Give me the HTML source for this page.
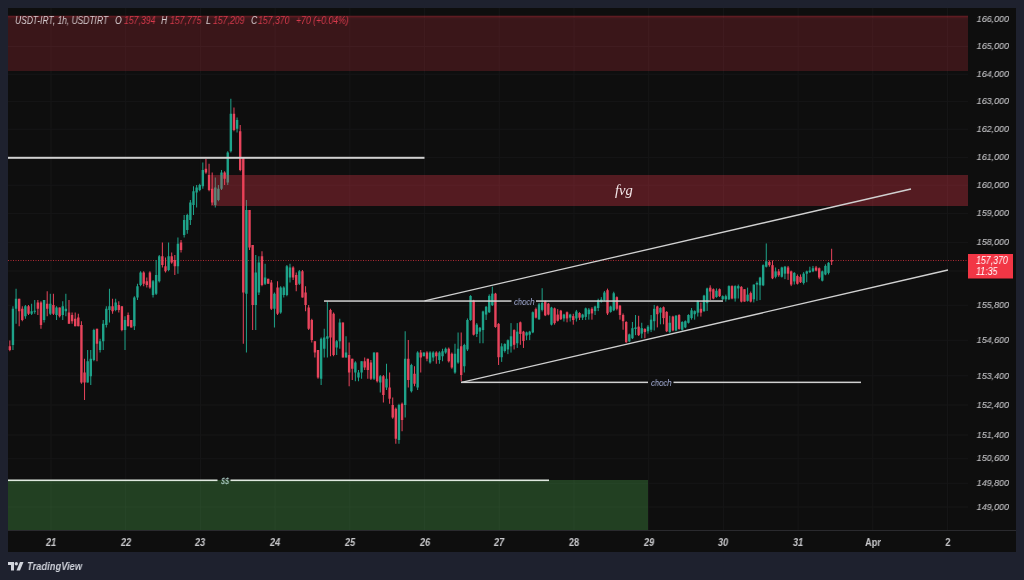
<!DOCTYPE html>
<html><head><meta charset="utf-8"><style>
html,body{margin:0;padding:0;}
body{width:1024px;height:580px;overflow:hidden;background:#1e212e;position:relative;font-family:"Liberation Sans", sans-serif;}
#chart{position:absolute;left:8px;top:8px;width:1008px;height:544px;background:#0e0e0e;}
svg{position:absolute;left:0;top:0;}
.pl{position:absolute;left:958.5px;width:50px;text-align:right;font-size:9.6px;line-height:11px;color:#c3c3c6;font-style:italic;-webkit-text-stroke:0.1px #c3c3c6;transform:scaleX(0.93);transform-origin:right center;}
.dl{position:absolute;top:535.5px;width:40px;text-align:center;font-size:10.5px;line-height:12px;color:#c8c8cb;font-style:italic;font-weight:bold;transform:scaleX(0.88);}
div{will-change:transform;}
.lg{position:absolute;top:15px;font-size:10px;line-height:11px;font-style:italic;white-space:nowrap;transform:scaleX(0.87);transform-origin:left center;}
</style></head><body>
<div id="chart"></div>
<svg width="1024" height="580" viewBox="0 0 1024 580">
<rect x="50.5" y="8" width="1" height="522" fill="#161617"/>
<rect x="125.21" y="8" width="1" height="522" fill="#161617"/>
<rect x="199.92" y="8" width="1" height="522" fill="#161617"/>
<rect x="274.63" y="8" width="1" height="522" fill="#161617"/>
<rect x="349.34" y="8" width="1" height="522" fill="#161617"/>
<rect x="424.05" y="8" width="1" height="522" fill="#161617"/>
<rect x="498.76" y="8" width="1" height="522" fill="#161617"/>
<rect x="573.47" y="8" width="1" height="522" fill="#161617"/>
<rect x="648.18" y="8" width="1" height="522" fill="#161617"/>
<rect x="722.89" y="8" width="1" height="522" fill="#161617"/>
<rect x="797.6" y="8" width="1" height="522" fill="#161617"/>
<rect x="872.31" y="8" width="1" height="522" fill="#161617"/>
<rect x="947.02" y="8" width="1" height="522" fill="#161617"/>
<rect x="8" y="18.4" width="960" height="1" fill="#161617"/>
<rect x="8" y="46" width="960" height="1" fill="#161617"/>
<rect x="8" y="73.7" width="960" height="1" fill="#161617"/>
<rect x="8" y="100.9" width="960" height="1" fill="#161617"/>
<rect x="8" y="128.7" width="960" height="1" fill="#161617"/>
<rect x="8" y="156.9" width="960" height="1" fill="#161617"/>
<rect x="8" y="184.7" width="960" height="1" fill="#161617"/>
<rect x="8" y="213.1" width="960" height="1" fill="#161617"/>
<rect x="8" y="241.9" width="960" height="1" fill="#161617"/>
<rect x="8" y="304.8" width="960" height="1" fill="#161617"/>
<rect x="8" y="339.8" width="960" height="1" fill="#161617"/>
<rect x="8" y="375.3" width="960" height="1" fill="#161617"/>
<rect x="8" y="404.5" width="960" height="1" fill="#161617"/>
<rect x="8" y="434.5" width="960" height="1" fill="#161617"/>
<rect x="8" y="458.2" width="960" height="1" fill="#161617"/>
<rect x="8" y="482.8" width="960" height="1" fill="#161617"/>
<rect x="8" y="506.5" width="960" height="1" fill="#161617"/>
<rect x="8" y="270.5" width="960" height="1" fill="#161617"/>
<line x1="8" y1="260.5" x2="968" y2="260.5" stroke="#f23645" stroke-width="1" stroke-dasharray="1 1.5" opacity="0.7"/>
<rect x="9.33" y="340.5" width="1" height="10.75" fill="#e8445c"/>
<rect x="8.63" y="346.25" width="2.4" height="3.75" fill="#e8445c"/>
<rect x="12.45" y="306.25" width="1" height="43.75" fill="#1ea38a"/>
<rect x="11.75" y="308.75" width="2.4" height="36.25" fill="#1ea38a"/>
<rect x="15.56" y="288.75" width="1" height="35" fill="#1ea38a"/>
<rect x="14.86" y="298.75" width="2.4" height="10" fill="#1ea38a"/>
<rect x="18.67" y="298.75" width="1" height="27.5" fill="#e8445c"/>
<rect x="17.97" y="298.75" width="2.4" height="12.5" fill="#e8445c"/>
<rect x="21.78" y="306.25" width="1" height="15" fill="#e8445c"/>
<rect x="21.08" y="308.75" width="2.4" height="11.25" fill="#e8445c"/>
<rect x="24.9" y="305" width="1" height="13.75" fill="#1ea38a"/>
<rect x="24.2" y="306.25" width="2.4" height="10" fill="#1ea38a"/>
<rect x="28.01" y="305" width="1" height="10" fill="#e8445c"/>
<rect x="27.31" y="306.25" width="2.4" height="7.5" fill="#e8445c"/>
<rect x="31.12" y="303.75" width="1" height="11.25" fill="#1ea38a"/>
<rect x="30.42" y="311.25" width="2.4" height="2.5" fill="#1ea38a"/>
<rect x="34.24" y="300" width="1" height="13.75" fill="#1ea38a"/>
<rect x="33.54" y="310.75" width="2.4" height="1" fill="#1ea38a"/>
<rect x="37.35" y="300" width="1" height="15" fill="#e8445c"/>
<rect x="36.65" y="302.5" width="2.4" height="6.25" fill="#e8445c"/>
<rect x="40.46" y="301.25" width="1" height="27.5" fill="#e8445c"/>
<rect x="39.76" y="302.5" width="2.4" height="22.5" fill="#e8445c"/>
<rect x="43.57" y="300" width="1" height="22.5" fill="#1ea38a"/>
<rect x="42.87" y="300" width="2.4" height="20" fill="#1ea38a"/>
<rect x="46.69" y="291.25" width="1" height="25" fill="#e8445c"/>
<rect x="45.99" y="303.75" width="2.4" height="5" fill="#e8445c"/>
<rect x="49.8" y="293.75" width="1" height="21.25" fill="#1ea38a"/>
<rect x="49.1" y="303.75" width="2.4" height="10" fill="#1ea38a"/>
<rect x="52.91" y="293.75" width="1" height="21.25" fill="#e8445c"/>
<rect x="52.21" y="305" width="2.4" height="8.75" fill="#e8445c"/>
<rect x="56.03" y="306.25" width="1" height="13.75" fill="#1ea38a"/>
<rect x="55.33" y="307.5" width="2.4" height="7.5" fill="#1ea38a"/>
<rect x="59.14" y="307.5" width="1" height="10" fill="#e8445c"/>
<rect x="58.44" y="307.5" width="2.4" height="8.75" fill="#e8445c"/>
<rect x="62.25" y="301.25" width="1" height="18.75" fill="#1ea38a"/>
<rect x="61.55" y="306.25" width="2.4" height="8.75" fill="#1ea38a"/>
<rect x="65.36" y="293.75" width="1" height="22.5" fill="#1ea38a"/>
<rect x="64.66" y="308.75" width="2.4" height="2.5" fill="#1ea38a"/>
<rect x="68.48" y="300" width="1" height="23.75" fill="#e8445c"/>
<rect x="67.78" y="312.5" width="2.4" height="11.25" fill="#e8445c"/>
<rect x="71.59" y="312.5" width="1" height="11.25" fill="#e8445c"/>
<rect x="70.89" y="315" width="2.4" height="6.25" fill="#e8445c"/>
<rect x="74.7" y="312.5" width="1" height="13.75" fill="#e8445c"/>
<rect x="74" y="318.75" width="2.4" height="7.5" fill="#e8445c"/>
<rect x="77.82" y="313.75" width="1" height="12.5" fill="#e8445c"/>
<rect x="77.12" y="317.5" width="2.4" height="8.75" fill="#e8445c"/>
<rect x="80.93" y="321.25" width="1" height="62.5" fill="#e8445c"/>
<rect x="80.23" y="325" width="2.4" height="57.5" fill="#e8445c"/>
<rect x="84.04" y="358.75" width="1" height="41.25" fill="#e8445c"/>
<rect x="83.34" y="372.5" width="2.4" height="10" fill="#e8445c"/>
<rect x="87.16" y="350" width="1" height="32.5" fill="#1ea38a"/>
<rect x="86.45" y="361.25" width="2.4" height="21.25" fill="#1ea38a"/>
<rect x="90.27" y="350" width="1" height="35" fill="#1ea38a"/>
<rect x="89.57" y="358.75" width="2.4" height="17.5" fill="#1ea38a"/>
<rect x="93.38" y="328.75" width="1" height="32.5" fill="#1ea38a"/>
<rect x="92.68" y="330" width="2.4" height="30" fill="#1ea38a"/>
<rect x="96.49" y="328.75" width="1" height="32.5" fill="#e8445c"/>
<rect x="95.79" y="328.75" width="2.4" height="15" fill="#e8445c"/>
<rect x="99.61" y="338.75" width="1" height="13.75" fill="#1ea38a"/>
<rect x="98.91" y="341.25" width="2.4" height="8.75" fill="#1ea38a"/>
<rect x="102.72" y="320" width="1" height="30" fill="#1ea38a"/>
<rect x="102.02" y="323.75" width="2.4" height="17.5" fill="#1ea38a"/>
<rect x="105.83" y="306.25" width="1" height="21.25" fill="#1ea38a"/>
<rect x="105.13" y="308.75" width="2.4" height="16.25" fill="#1ea38a"/>
<rect x="108.95" y="288.75" width="1" height="33.75" fill="#1ea38a"/>
<rect x="108.25" y="306.25" width="2.4" height="3.75" fill="#1ea38a"/>
<rect x="112.06" y="298.75" width="1" height="15" fill="#e8445c"/>
<rect x="111.36" y="306.25" width="2.4" height="5" fill="#e8445c"/>
<rect x="115.17" y="298.75" width="1" height="12.5" fill="#1ea38a"/>
<rect x="114.47" y="302.5" width="2.4" height="7.5" fill="#1ea38a"/>
<rect x="118.28" y="301.25" width="1" height="11.25" fill="#e8445c"/>
<rect x="117.58" y="305" width="2.4" height="5" fill="#e8445c"/>
<rect x="121.4" y="306.25" width="1" height="25" fill="#e8445c"/>
<rect x="120.7" y="306.25" width="2.4" height="23.75" fill="#e8445c"/>
<rect x="124.51" y="316.25" width="1" height="33.75" fill="#1ea38a"/>
<rect x="123.81" y="320" width="2.4" height="10" fill="#1ea38a"/>
<rect x="127.62" y="312.5" width="1" height="13.75" fill="#e8445c"/>
<rect x="126.92" y="315" width="2.4" height="11.25" fill="#e8445c"/>
<rect x="130.74" y="320" width="1" height="7.5" fill="#e8445c"/>
<rect x="130.04" y="320" width="2.4" height="7.5" fill="#e8445c"/>
<rect x="133.85" y="296.25" width="1" height="33.75" fill="#1ea38a"/>
<rect x="133.15" y="297.5" width="2.4" height="28.75" fill="#1ea38a"/>
<rect x="136.96" y="283.75" width="1" height="16.25" fill="#1ea38a"/>
<rect x="136.26" y="286.25" width="2.4" height="11.25" fill="#1ea38a"/>
<rect x="140.07" y="271.25" width="1" height="15" fill="#1ea38a"/>
<rect x="139.37" y="272.5" width="2.4" height="12.5" fill="#1ea38a"/>
<rect x="143.19" y="271.25" width="1" height="15" fill="#e8445c"/>
<rect x="142.49" y="272.5" width="2.4" height="11.25" fill="#e8445c"/>
<rect x="146.3" y="277.5" width="1" height="10" fill="#e8445c"/>
<rect x="145.6" y="281.25" width="2.4" height="3.75" fill="#e8445c"/>
<rect x="149.41" y="271.25" width="1" height="17.5" fill="#e8445c"/>
<rect x="148.71" y="272.5" width="2.4" height="15" fill="#e8445c"/>
<rect x="152.53" y="280" width="1" height="17.5" fill="#1ea38a"/>
<rect x="151.83" y="281.25" width="2.4" height="13.75" fill="#1ea38a"/>
<rect x="155.64" y="260" width="1" height="35" fill="#1ea38a"/>
<rect x="154.94" y="275" width="2.4" height="18.75" fill="#1ea38a"/>
<rect x="158.75" y="255" width="1" height="27.5" fill="#1ea38a"/>
<rect x="158.05" y="256.25" width="2.4" height="25" fill="#1ea38a"/>
<rect x="161.87" y="242.5" width="1" height="25" fill="#e8445c"/>
<rect x="161.17" y="256.25" width="2.4" height="8.75" fill="#e8445c"/>
<rect x="164.98" y="257.5" width="1" height="15" fill="#e8445c"/>
<rect x="164.28" y="266.25" width="2.4" height="5" fill="#e8445c"/>
<rect x="168.09" y="242.5" width="1" height="28.75" fill="#1ea38a"/>
<rect x="167.39" y="256.25" width="2.4" height="13.75" fill="#1ea38a"/>
<rect x="171.2" y="252.5" width="1" height="11.25" fill="#e8445c"/>
<rect x="170.5" y="256.25" width="2.4" height="6.25" fill="#e8445c"/>
<rect x="174.32" y="255" width="1" height="20" fill="#e8445c"/>
<rect x="173.62" y="260" width="2.4" height="6.25" fill="#e8445c"/>
<rect x="177.43" y="237.5" width="1" height="36.25" fill="#1ea38a"/>
<rect x="176.73" y="243.75" width="2.4" height="22.5" fill="#1ea38a"/>
<rect x="180.54" y="240" width="1" height="12.5" fill="#e8445c"/>
<rect x="179.84" y="242.5" width="2.4" height="7.5" fill="#e8445c"/>
<rect x="183.66" y="215" width="1" height="22.5" fill="#1ea38a"/>
<rect x="182.96" y="220" width="2.4" height="15" fill="#1ea38a"/>
<rect x="186.77" y="213.75" width="1" height="20" fill="#1ea38a"/>
<rect x="186.07" y="215" width="2.4" height="15" fill="#1ea38a"/>
<rect x="189.88" y="200" width="1" height="25" fill="#1ea38a"/>
<rect x="189.18" y="202.5" width="2.4" height="17.5" fill="#1ea38a"/>
<rect x="192.99" y="186.25" width="1" height="28.75" fill="#1ea38a"/>
<rect x="192.29" y="191.25" width="2.4" height="13.75" fill="#1ea38a"/>
<rect x="196.11" y="185" width="1" height="22.5" fill="#1ea38a"/>
<rect x="195.41" y="187.5" width="2.4" height="5" fill="#1ea38a"/>
<rect x="199.22" y="183.75" width="1" height="7.5" fill="#1ea38a"/>
<rect x="198.52" y="185" width="2.4" height="5" fill="#1ea38a"/>
<rect x="202.33" y="162.5" width="1" height="26.25" fill="#1ea38a"/>
<rect x="201.63" y="170" width="2.4" height="16.25" fill="#1ea38a"/>
<rect x="205.45" y="158.75" width="1" height="15" fill="#e8445c"/>
<rect x="204.75" y="168.75" width="2.4" height="3.75" fill="#e8445c"/>
<rect x="208.56" y="163.75" width="1" height="27.5" fill="#e8445c"/>
<rect x="207.86" y="175" width="2.4" height="15" fill="#e8445c"/>
<rect x="211.67" y="172.5" width="1" height="32.5" fill="#e8445c"/>
<rect x="210.97" y="188.75" width="2.4" height="13.75" fill="#e8445c"/>
<rect x="214.78" y="177.5" width="1" height="30" fill="#1ea38a"/>
<rect x="214.08" y="187.5" width="2.4" height="17.5" fill="#1ea38a"/>
<rect x="217.9" y="185" width="1" height="16.25" fill="#1ea38a"/>
<rect x="217.2" y="188.75" width="2.4" height="11.25" fill="#1ea38a"/>
<rect x="221.01" y="170" width="1" height="20" fill="#1ea38a"/>
<rect x="220.31" y="172.5" width="2.4" height="16.25" fill="#1ea38a"/>
<rect x="224.12" y="171.25" width="1" height="13.75" fill="#e8445c"/>
<rect x="223.42" y="172.5" width="2.4" height="6.25" fill="#e8445c"/>
<rect x="227.24" y="151.25" width="1" height="33.75" fill="#1ea38a"/>
<rect x="226.54" y="152.5" width="2.4" height="30" fill="#1ea38a"/>
<rect x="230.35" y="98.75" width="1" height="53.75" fill="#1ea38a"/>
<rect x="229.65" y="113.75" width="2.4" height="37.5" fill="#1ea38a"/>
<rect x="233.46" y="107.5" width="1" height="23.75" fill="#e8445c"/>
<rect x="232.76" y="113.75" width="2.4" height="16.25" fill="#e8445c"/>
<rect x="236.57" y="117.5" width="1" height="15" fill="#1ea38a"/>
<rect x="235.88" y="120" width="2.4" height="8.75" fill="#1ea38a"/>
<rect x="239.69" y="125" width="1" height="46.25" fill="#e8445c"/>
<rect x="238.99" y="131.25" width="2.4" height="38.75" fill="#e8445c"/>
<rect x="242.8" y="157.5" width="1" height="186.25" fill="#e8445c"/>
<rect x="242.1" y="157.5" width="2.4" height="135" fill="#e8445c"/>
<rect x="245.91" y="200" width="1" height="152.5" fill="#1ea38a"/>
<rect x="245.21" y="210" width="2.4" height="83.75" fill="#1ea38a"/>
<rect x="249.03" y="210" width="1" height="40" fill="#e8445c"/>
<rect x="248.33" y="210" width="2.4" height="37.5" fill="#e8445c"/>
<rect x="252.14" y="245" width="1" height="85" fill="#e8445c"/>
<rect x="251.44" y="245" width="2.4" height="60" fill="#e8445c"/>
<rect x="255.25" y="255" width="1" height="75" fill="#1ea38a"/>
<rect x="254.55" y="272.5" width="2.4" height="32.5" fill="#1ea38a"/>
<rect x="258.37" y="256.25" width="1" height="38.75" fill="#1ea38a"/>
<rect x="257.67" y="262.5" width="2.4" height="30" fill="#1ea38a"/>
<rect x="261.48" y="251.25" width="1" height="35" fill="#e8445c"/>
<rect x="260.78" y="256.25" width="2.4" height="28.75" fill="#e8445c"/>
<rect x="264.59" y="263.75" width="1" height="21.25" fill="#1ea38a"/>
<rect x="263.89" y="277.5" width="2.4" height="6.25" fill="#1ea38a"/>
<rect x="267.7" y="278.75" width="1" height="5" fill="#e8445c"/>
<rect x="267" y="278.75" width="2.4" height="5" fill="#e8445c"/>
<rect x="270.82" y="280" width="1" height="30" fill="#e8445c"/>
<rect x="270.12" y="282.5" width="2.4" height="26.25" fill="#e8445c"/>
<rect x="273.93" y="292.5" width="1" height="35" fill="#1ea38a"/>
<rect x="273.23" y="293.75" width="2.4" height="15" fill="#1ea38a"/>
<rect x="277.04" y="281.25" width="1" height="33.75" fill="#e8445c"/>
<rect x="276.34" y="287.5" width="2.4" height="26.25" fill="#e8445c"/>
<rect x="280.16" y="286.25" width="1" height="27.5" fill="#1ea38a"/>
<rect x="279.46" y="287.5" width="2.4" height="25" fill="#1ea38a"/>
<rect x="283.27" y="286.25" width="1" height="11.25" fill="#1ea38a"/>
<rect x="282.57" y="287.5" width="2.4" height="7.5" fill="#1ea38a"/>
<rect x="286.38" y="265" width="1" height="31.25" fill="#1ea38a"/>
<rect x="285.68" y="266.25" width="2.4" height="28.75" fill="#1ea38a"/>
<rect x="289.49" y="263.75" width="1" height="18.75" fill="#1ea38a"/>
<rect x="288.79" y="267.5" width="2.4" height="10" fill="#1ea38a"/>
<rect x="292.61" y="266.25" width="1" height="13.75" fill="#e8445c"/>
<rect x="291.91" y="267.5" width="2.4" height="10" fill="#e8445c"/>
<rect x="295.72" y="272.5" width="1" height="18.75" fill="#e8445c"/>
<rect x="295.02" y="275" width="2.4" height="10" fill="#e8445c"/>
<rect x="298.83" y="270" width="1" height="15" fill="#1ea38a"/>
<rect x="298.13" y="271.25" width="2.4" height="12.5" fill="#1ea38a"/>
<rect x="301.95" y="270" width="1" height="27.5" fill="#e8445c"/>
<rect x="301.25" y="271.25" width="2.4" height="26.25" fill="#e8445c"/>
<rect x="305.06" y="286.25" width="1" height="25" fill="#e8445c"/>
<rect x="304.36" y="292.5" width="2.4" height="12.5" fill="#e8445c"/>
<rect x="308.17" y="305" width="1" height="25" fill="#e8445c"/>
<rect x="307.47" y="307.5" width="2.4" height="21.25" fill="#e8445c"/>
<rect x="311.29" y="318.75" width="1" height="23.75" fill="#e8445c"/>
<rect x="310.59" y="320" width="2.4" height="20" fill="#e8445c"/>
<rect x="314.4" y="341.25" width="1" height="16.25" fill="#e8445c"/>
<rect x="313.7" y="341.25" width="2.4" height="11.25" fill="#e8445c"/>
<rect x="317.51" y="350" width="1" height="28.75" fill="#e8445c"/>
<rect x="316.81" y="350" width="2.4" height="27.5" fill="#e8445c"/>
<rect x="320.62" y="337.5" width="1" height="47.5" fill="#1ea38a"/>
<rect x="319.92" y="338.75" width="2.4" height="40" fill="#1ea38a"/>
<rect x="323.74" y="328.75" width="1" height="28.75" fill="#1ea38a"/>
<rect x="323.04" y="337.5" width="2.4" height="11.25" fill="#1ea38a"/>
<rect x="326.85" y="301.25" width="1" height="56.25" fill="#1ea38a"/>
<rect x="326.15" y="336.25" width="2.4" height="2.5" fill="#1ea38a"/>
<rect x="329.96" y="308.75" width="1" height="47.5" fill="#e8445c"/>
<rect x="329.26" y="310" width="2.4" height="27.5" fill="#e8445c"/>
<rect x="333.08" y="312.5" width="1" height="43.75" fill="#e8445c"/>
<rect x="332.38" y="313.75" width="2.4" height="41.25" fill="#e8445c"/>
<rect x="336.19" y="340" width="1" height="15" fill="#1ea38a"/>
<rect x="335.49" y="341.25" width="2.4" height="6.25" fill="#1ea38a"/>
<rect x="339.3" y="318.75" width="1" height="30" fill="#1ea38a"/>
<rect x="338.6" y="322.5" width="2.4" height="18.75" fill="#1ea38a"/>
<rect x="342.41" y="322.5" width="1" height="35" fill="#e8445c"/>
<rect x="341.71" y="322.5" width="2.4" height="35" fill="#e8445c"/>
<rect x="345.53" y="336.25" width="1" height="21.25" fill="#1ea38a"/>
<rect x="344.83" y="352.5" width="2.4" height="5" fill="#1ea38a"/>
<rect x="348.64" y="342.5" width="1" height="43.75" fill="#e8445c"/>
<rect x="347.94" y="355" width="2.4" height="17.5" fill="#e8445c"/>
<rect x="351.75" y="358.75" width="1" height="21.25" fill="#e8445c"/>
<rect x="351.05" y="358.75" width="2.4" height="10" fill="#e8445c"/>
<rect x="354.87" y="361.25" width="1" height="20" fill="#1ea38a"/>
<rect x="354.17" y="362.5" width="2.4" height="10" fill="#1ea38a"/>
<rect x="357.98" y="370" width="1" height="11.25" fill="#1ea38a"/>
<rect x="357.28" y="372.5" width="2.4" height="5" fill="#1ea38a"/>
<rect x="361.09" y="361.25" width="1" height="17.5" fill="#1ea38a"/>
<rect x="360.39" y="361.25" width="2.4" height="11.25" fill="#1ea38a"/>
<rect x="364.2" y="357.5" width="1" height="12.5" fill="#e8445c"/>
<rect x="363.5" y="361.25" width="2.4" height="6.25" fill="#e8445c"/>
<rect x="367.32" y="358.75" width="1" height="20" fill="#e8445c"/>
<rect x="366.62" y="358.75" width="2.4" height="11.25" fill="#e8445c"/>
<rect x="370.43" y="360" width="1" height="20" fill="#e8445c"/>
<rect x="369.73" y="362.5" width="2.4" height="16.25" fill="#e8445c"/>
<rect x="373.54" y="352.5" width="1" height="27.5" fill="#1ea38a"/>
<rect x="372.84" y="352.5" width="2.4" height="26.25" fill="#1ea38a"/>
<rect x="376.66" y="352.5" width="1" height="30" fill="#e8445c"/>
<rect x="375.96" y="352.5" width="2.4" height="28.75" fill="#e8445c"/>
<rect x="379.77" y="375" width="1" height="17.5" fill="#1ea38a"/>
<rect x="379.07" y="376.25" width="2.4" height="6.25" fill="#1ea38a"/>
<rect x="382.88" y="375" width="1" height="27.5" fill="#e8445c"/>
<rect x="382.18" y="376.25" width="2.4" height="18.75" fill="#e8445c"/>
<rect x="386" y="363.75" width="1" height="26.25" fill="#1ea38a"/>
<rect x="385.3" y="378.75" width="2.4" height="8.75" fill="#1ea38a"/>
<rect x="389.11" y="372.5" width="1" height="31.25" fill="#e8445c"/>
<rect x="388.41" y="387.5" width="2.4" height="11.25" fill="#e8445c"/>
<rect x="392.22" y="397.5" width="1" height="21.25" fill="#e8445c"/>
<rect x="391.52" y="405" width="2.4" height="12.5" fill="#e8445c"/>
<rect x="395.33" y="407.5" width="1" height="36.25" fill="#e8445c"/>
<rect x="394.63" y="408.75" width="2.4" height="30" fill="#e8445c"/>
<rect x="398.45" y="403.75" width="1" height="40" fill="#1ea38a"/>
<rect x="397.75" y="405" width="2.4" height="35" fill="#1ea38a"/>
<rect x="401.56" y="402.5" width="1" height="28.75" fill="#e8445c"/>
<rect x="400.86" y="403.75" width="2.4" height="16.25" fill="#e8445c"/>
<rect x="404.67" y="331.25" width="1" height="86.25" fill="#1ea38a"/>
<rect x="403.97" y="358.75" width="2.4" height="46.25" fill="#1ea38a"/>
<rect x="407.79" y="340" width="1" height="47.5" fill="#e8445c"/>
<rect x="407.09" y="358.75" width="2.4" height="21.25" fill="#e8445c"/>
<rect x="410.9" y="363.75" width="1" height="28.75" fill="#1ea38a"/>
<rect x="410.2" y="365" width="2.4" height="26.25" fill="#1ea38a"/>
<rect x="414.01" y="366.25" width="1" height="20" fill="#e8445c"/>
<rect x="413.31" y="373.75" width="2.4" height="10" fill="#e8445c"/>
<rect x="417.12" y="351.25" width="1" height="38.75" fill="#1ea38a"/>
<rect x="416.42" y="352.5" width="2.4" height="35" fill="#1ea38a"/>
<rect x="420.24" y="350" width="1" height="22.5" fill="#e8445c"/>
<rect x="419.54" y="352.5" width="2.4" height="5" fill="#e8445c"/>
<rect x="423.35" y="352.5" width="1" height="3.75" fill="#1ea38a"/>
<rect x="422.65" y="352.5" width="2.4" height="3.75" fill="#1ea38a"/>
<rect x="426.46" y="351.25" width="1" height="10" fill="#e8445c"/>
<rect x="425.76" y="352.5" width="2.4" height="6.25" fill="#e8445c"/>
<rect x="429.58" y="351.25" width="1" height="12.5" fill="#1ea38a"/>
<rect x="428.88" y="352.5" width="2.4" height="10" fill="#1ea38a"/>
<rect x="432.69" y="351.25" width="1" height="10" fill="#1ea38a"/>
<rect x="431.99" y="352.5" width="2.4" height="5" fill="#1ea38a"/>
<rect x="435.8" y="351.25" width="1" height="12.5" fill="#e8445c"/>
<rect x="435.1" y="352.5" width="2.4" height="3.75" fill="#e8445c"/>
<rect x="438.91" y="351.25" width="1" height="12.5" fill="#1ea38a"/>
<rect x="438.21" y="352.5" width="2.4" height="7.5" fill="#1ea38a"/>
<rect x="442.03" y="348.75" width="1" height="12.5" fill="#1ea38a"/>
<rect x="441.33" y="351.25" width="2.4" height="5" fill="#1ea38a"/>
<rect x="445.14" y="347.5" width="1" height="6.25" fill="#1ea38a"/>
<rect x="444.44" y="348.75" width="2.4" height="3.75" fill="#1ea38a"/>
<rect x="448.25" y="347.5" width="1" height="15" fill="#e8445c"/>
<rect x="447.55" y="348.75" width="2.4" height="12.5" fill="#e8445c"/>
<rect x="451.37" y="352.5" width="1" height="16.25" fill="#e8445c"/>
<rect x="450.67" y="353.75" width="2.4" height="13.75" fill="#e8445c"/>
<rect x="454.48" y="343.75" width="1" height="30" fill="#1ea38a"/>
<rect x="453.78" y="353.75" width="2.4" height="18.75" fill="#1ea38a"/>
<rect x="457.59" y="332.5" width="1" height="31.25" fill="#1ea38a"/>
<rect x="456.89" y="348.75" width="2.4" height="13.75" fill="#1ea38a"/>
<rect x="460.7" y="332.5" width="1" height="48.75" fill="#e8445c"/>
<rect x="460" y="346.25" width="2.4" height="28.75" fill="#e8445c"/>
<rect x="463.82" y="343.75" width="1" height="28.75" fill="#1ea38a"/>
<rect x="463.12" y="345" width="2.4" height="21.25" fill="#1ea38a"/>
<rect x="466.93" y="318.44" width="1" height="32.58" fill="#1ea38a"/>
<rect x="466.23" y="319.99" width="2.4" height="29.48" fill="#1ea38a"/>
<rect x="470.04" y="295.17" width="1" height="25.6" fill="#1ea38a"/>
<rect x="469.34" y="295.95" width="2.4" height="24.05" fill="#1ea38a"/>
<rect x="473.16" y="299.82" width="1" height="35.68" fill="#e8445c"/>
<rect x="472.46" y="300.6" width="2.4" height="34.13" fill="#e8445c"/>
<rect x="476.27" y="323.1" width="1" height="13.96" fill="#1ea38a"/>
<rect x="475.57" y="324.65" width="2.4" height="9.31" fill="#1ea38a"/>
<rect x="479.38" y="326.98" width="1" height="16.29" fill="#1ea38a"/>
<rect x="478.68" y="327.75" width="2.4" height="3.88" fill="#1ea38a"/>
<rect x="482.5" y="310.68" width="1" height="32.58" fill="#1ea38a"/>
<rect x="481.8" y="311.46" width="2.4" height="18.62" fill="#1ea38a"/>
<rect x="485.61" y="306.03" width="1" height="13.96" fill="#1ea38a"/>
<rect x="484.91" y="306.81" width="2.4" height="7.76" fill="#1ea38a"/>
<rect x="488.72" y="294.39" width="1" height="18.62" fill="#1ea38a"/>
<rect x="488.02" y="295.95" width="2.4" height="16.29" fill="#1ea38a"/>
<rect x="491.83" y="286.64" width="1" height="19.39" fill="#1ea38a"/>
<rect x="491.13" y="293.62" width="2.4" height="11.64" fill="#1ea38a"/>
<rect x="494.95" y="292.84" width="1" height="34.91" fill="#e8445c"/>
<rect x="494.25" y="293.62" width="2.4" height="33.36" fill="#e8445c"/>
<rect x="498.06" y="323.1" width="1" height="41.89" fill="#e8445c"/>
<rect x="497.36" y="323.87" width="2.4" height="33.36" fill="#e8445c"/>
<rect x="501.17" y="343.27" width="1" height="18.62" fill="#1ea38a"/>
<rect x="500.47" y="346.37" width="2.4" height="10.86" fill="#1ea38a"/>
<rect x="504.29" y="343.27" width="1" height="9.31" fill="#1ea38a"/>
<rect x="503.59" y="344.04" width="2.4" height="6.98" fill="#1ea38a"/>
<rect x="507.4" y="339.39" width="1" height="14.74" fill="#1ea38a"/>
<rect x="506.7" y="340.16" width="2.4" height="9.31" fill="#1ea38a"/>
<rect x="510.51" y="323.1" width="1" height="29.48" fill="#1ea38a"/>
<rect x="509.81" y="336.28" width="2.4" height="10.08" fill="#1ea38a"/>
<rect x="513.62" y="329.3" width="1" height="20.17" fill="#e8445c"/>
<rect x="512.92" y="330.08" width="2.4" height="14.74" fill="#e8445c"/>
<rect x="516.74" y="323.1" width="1" height="24.82" fill="#1ea38a"/>
<rect x="516.04" y="331.63" width="2.4" height="11.64" fill="#1ea38a"/>
<rect x="519.85" y="321.55" width="1" height="23.27" fill="#e8445c"/>
<rect x="519.15" y="322.32" width="2.4" height="11.64" fill="#e8445c"/>
<rect x="522.96" y="330.85" width="1" height="17.07" fill="#e8445c"/>
<rect x="522.26" y="331.63" width="2.4" height="9.31" fill="#e8445c"/>
<rect x="526.08" y="331.63" width="1" height="8.53" fill="#1ea38a"/>
<rect x="525.38" y="332.41" width="2.4" height="3.1" fill="#1ea38a"/>
<rect x="529.19" y="330.85" width="1" height="9.31" fill="#1ea38a"/>
<rect x="528.49" y="331.63" width="2.4" height="3.1" fill="#1ea38a"/>
<rect x="532.3" y="311.46" width="1" height="21.72" fill="#1ea38a"/>
<rect x="531.6" y="312.24" width="2.4" height="20.17" fill="#1ea38a"/>
<rect x="535.41" y="307.58" width="1" height="10.86" fill="#e8445c"/>
<rect x="534.71" y="309.13" width="2.4" height="8.53" fill="#e8445c"/>
<rect x="538.53" y="302.93" width="1" height="17.07" fill="#1ea38a"/>
<rect x="537.83" y="304.48" width="2.4" height="14.74" fill="#1ea38a"/>
<rect x="541.64" y="288.19" width="1" height="23.27" fill="#1ea38a"/>
<rect x="540.94" y="302.93" width="2.4" height="6.98" fill="#1ea38a"/>
<rect x="544.75" y="300.6" width="1" height="15.52" fill="#e8445c"/>
<rect x="544.05" y="301.38" width="2.4" height="13.96" fill="#e8445c"/>
<rect x="547.87" y="302.93" width="1" height="12.41" fill="#e8445c"/>
<rect x="547.17" y="303.7" width="2.4" height="10.86" fill="#e8445c"/>
<rect x="550.98" y="306.81" width="1" height="18.62" fill="#1ea38a"/>
<rect x="550.28" y="307.58" width="2.4" height="17.07" fill="#1ea38a"/>
<rect x="554.09" y="307.58" width="1" height="17.07" fill="#e8445c"/>
<rect x="553.39" y="308.36" width="2.4" height="14.74" fill="#e8445c"/>
<rect x="557.21" y="309.13" width="1" height="12.41" fill="#e8445c"/>
<rect x="556.51" y="314.56" width="2.4" height="6.21" fill="#e8445c"/>
<rect x="560.32" y="309.91" width="1" height="10.08" fill="#e8445c"/>
<rect x="559.62" y="310.68" width="2.4" height="8.53" fill="#e8445c"/>
<rect x="563.43" y="313.79" width="1" height="7.76" fill="#1ea38a"/>
<rect x="562.73" y="314.56" width="2.4" height="3.88" fill="#1ea38a"/>
<rect x="566.54" y="311.46" width="1" height="10.86" fill="#e8445c"/>
<rect x="565.84" y="312.24" width="2.4" height="6.21" fill="#e8445c"/>
<rect x="569.66" y="313.79" width="1" height="7.76" fill="#1ea38a"/>
<rect x="568.96" y="314.56" width="2.4" height="3.1" fill="#1ea38a"/>
<rect x="572.77" y="313.79" width="1" height="10.86" fill="#e8445c"/>
<rect x="572.07" y="316.12" width="2.4" height="3.88" fill="#e8445c"/>
<rect x="575.88" y="309.91" width="1" height="11.64" fill="#1ea38a"/>
<rect x="575.18" y="311.46" width="2.4" height="6.98" fill="#1ea38a"/>
<rect x="579" y="312.24" width="1" height="7.76" fill="#e8445c"/>
<rect x="578.3" y="313.01" width="2.4" height="4.65" fill="#e8445c"/>
<rect x="582.11" y="313.79" width="1" height="6.21" fill="#1ea38a"/>
<rect x="581.41" y="314.56" width="2.4" height="3.1" fill="#1ea38a"/>
<rect x="585.22" y="307.58" width="1" height="12.41" fill="#1ea38a"/>
<rect x="584.52" y="308.36" width="2.4" height="8.53" fill="#1ea38a"/>
<rect x="588.33" y="308.01" width="1" height="11.64" fill="#1ea38a"/>
<rect x="587.63" y="309.56" width="2.4" height="4.65" fill="#1ea38a"/>
<rect x="591.45" y="307.24" width="1" height="12.41" fill="#e8445c"/>
<rect x="590.75" y="308.79" width="2.4" height="4.65" fill="#e8445c"/>
<rect x="594.56" y="305.68" width="1" height="9.31" fill="#1ea38a"/>
<rect x="593.86" y="306.46" width="2.4" height="4.65" fill="#1ea38a"/>
<rect x="597.67" y="298.7" width="1" height="12.41" fill="#1ea38a"/>
<rect x="596.97" y="300.25" width="2.4" height="7.76" fill="#1ea38a"/>
<rect x="600.79" y="297.15" width="1" height="5.43" fill="#1ea38a"/>
<rect x="600.09" y="299.48" width="2.4" height="2.33" fill="#1ea38a"/>
<rect x="603.9" y="290.95" width="1" height="10.08" fill="#1ea38a"/>
<rect x="603.2" y="292.5" width="2.4" height="7.76" fill="#1ea38a"/>
<rect x="607.01" y="288.62" width="1" height="26.38" fill="#e8445c"/>
<rect x="606.31" y="290.17" width="2.4" height="23.27" fill="#e8445c"/>
<rect x="610.12" y="305.68" width="1" height="6.98" fill="#1ea38a"/>
<rect x="609.42" y="306.46" width="2.4" height="5.43" fill="#1ea38a"/>
<rect x="613.24" y="291.72" width="1" height="19.39" fill="#1ea38a"/>
<rect x="612.54" y="293.27" width="2.4" height="17.07" fill="#1ea38a"/>
<rect x="616.35" y="296.38" width="1" height="13.96" fill="#e8445c"/>
<rect x="615.65" y="297.15" width="2.4" height="11.64" fill="#e8445c"/>
<rect x="619.46" y="304.91" width="1" height="14.74" fill="#e8445c"/>
<rect x="618.76" y="305.68" width="2.4" height="9.31" fill="#e8445c"/>
<rect x="622.58" y="313.44" width="1" height="16.29" fill="#e8445c"/>
<rect x="621.88" y="314.99" width="2.4" height="6.21" fill="#e8445c"/>
<rect x="625.69" y="321.2" width="1" height="21.72" fill="#e8445c"/>
<rect x="624.99" y="321.98" width="2.4" height="20.17" fill="#e8445c"/>
<rect x="628.8" y="333.61" width="1" height="8.53" fill="#1ea38a"/>
<rect x="628.1" y="334.39" width="2.4" height="6.98" fill="#1ea38a"/>
<rect x="631.92" y="321.98" width="1" height="17.07" fill="#1ea38a"/>
<rect x="631.22" y="328.18" width="2.4" height="10.08" fill="#1ea38a"/>
<rect x="635.03" y="314.99" width="1" height="20.17" fill="#1ea38a"/>
<rect x="634.33" y="327.41" width="2.4" height="1.55" fill="#1ea38a"/>
<rect x="638.14" y="315.77" width="1" height="20.17" fill="#e8445c"/>
<rect x="637.44" y="326.63" width="2.4" height="8.53" fill="#e8445c"/>
<rect x="641.25" y="322.75" width="1" height="15.52" fill="#1ea38a"/>
<rect x="640.55" y="328.18" width="2.4" height="5.43" fill="#1ea38a"/>
<rect x="644.37" y="328.18" width="1" height="10.08" fill="#e8445c"/>
<rect x="643.67" y="328.96" width="2.4" height="3.1" fill="#e8445c"/>
<rect x="647.48" y="325.08" width="1" height="8.53" fill="#1ea38a"/>
<rect x="646.78" y="326.63" width="2.4" height="4.65" fill="#1ea38a"/>
<rect x="650.59" y="314.99" width="1" height="17.07" fill="#1ea38a"/>
<rect x="649.89" y="319.65" width="2.4" height="10.08" fill="#1ea38a"/>
<rect x="653.71" y="304.91" width="1" height="25.6" fill="#1ea38a"/>
<rect x="653.01" y="308.79" width="2.4" height="12.41" fill="#1ea38a"/>
<rect x="656.82" y="305.68" width="1" height="21.72" fill="#e8445c"/>
<rect x="656.12" y="306.46" width="2.4" height="7.76" fill="#e8445c"/>
<rect x="659.93" y="307.24" width="1" height="17.07" fill="#1ea38a"/>
<rect x="659.23" y="308.01" width="2.4" height="4.65" fill="#1ea38a"/>
<rect x="663.04" y="306.46" width="1" height="17.84" fill="#e8445c"/>
<rect x="662.34" y="307.24" width="2.4" height="10.86" fill="#e8445c"/>
<rect x="666.16" y="311.12" width="1" height="20.95" fill="#e8445c"/>
<rect x="665.46" y="311.89" width="2.4" height="19.39" fill="#e8445c"/>
<rect x="669.27" y="315.77" width="1" height="17.07" fill="#1ea38a"/>
<rect x="668.57" y="322.75" width="2.4" height="9.31" fill="#1ea38a"/>
<rect x="672.38" y="315.77" width="1" height="15.52" fill="#e8445c"/>
<rect x="671.68" y="316.55" width="2.4" height="13.96" fill="#e8445c"/>
<rect x="675.5" y="314.99" width="1" height="16.29" fill="#1ea38a"/>
<rect x="674.8" y="315.77" width="2.4" height="14.74" fill="#1ea38a"/>
<rect x="678.61" y="314.22" width="1" height="15.52" fill="#e8445c"/>
<rect x="677.91" y="314.99" width="2.4" height="13.96" fill="#e8445c"/>
<rect x="681.72" y="321.2" width="1" height="9.31" fill="#1ea38a"/>
<rect x="681.02" y="321.98" width="2.4" height="7.76" fill="#1ea38a"/>
<rect x="684.83" y="320.42" width="1" height="7.76" fill="#1ea38a"/>
<rect x="684.13" y="321.2" width="2.4" height="6.21" fill="#1ea38a"/>
<rect x="687.95" y="314.22" width="1" height="9.31" fill="#1ea38a"/>
<rect x="687.25" y="314.99" width="2.4" height="7.76" fill="#1ea38a"/>
<rect x="691.06" y="308.01" width="1" height="11.64" fill="#1ea38a"/>
<rect x="690.36" y="310.34" width="2.4" height="7.76" fill="#1ea38a"/>
<rect x="694.17" y="310.34" width="1" height="9.31" fill="#1ea38a"/>
<rect x="693.47" y="311.12" width="2.4" height="3.1" fill="#1ea38a"/>
<rect x="697.29" y="300.25" width="1" height="16.29" fill="#1ea38a"/>
<rect x="696.59" y="301.03" width="2.4" height="11.64" fill="#1ea38a"/>
<rect x="700.4" y="302.58" width="1" height="13.96" fill="#e8445c"/>
<rect x="699.7" y="308.79" width="2.4" height="3.88" fill="#e8445c"/>
<rect x="703.51" y="294.82" width="1" height="17.07" fill="#1ea38a"/>
<rect x="702.81" y="295.6" width="2.4" height="15.52" fill="#1ea38a"/>
<rect x="706.63" y="287.65" width="1" height="23.27" fill="#1ea38a"/>
<rect x="705.93" y="288.42" width="2.4" height="14.74" fill="#1ea38a"/>
<rect x="709.74" y="285.32" width="1" height="14.74" fill="#e8445c"/>
<rect x="709.04" y="287.65" width="2.4" height="3.88" fill="#e8445c"/>
<rect x="712.85" y="288.42" width="1" height="10.86" fill="#e8445c"/>
<rect x="712.15" y="289.2" width="2.4" height="9.31" fill="#e8445c"/>
<rect x="715.96" y="288.42" width="1" height="9.31" fill="#1ea38a"/>
<rect x="715.26" y="290.75" width="2.4" height="6.21" fill="#1ea38a"/>
<rect x="719.08" y="288.42" width="1" height="8.53" fill="#e8445c"/>
<rect x="718.38" y="289.2" width="2.4" height="6.98" fill="#e8445c"/>
<rect x="722.19" y="295.41" width="1" height="4.65" fill="#1ea38a"/>
<rect x="721.49" y="296.18" width="2.4" height="3.1" fill="#1ea38a"/>
<rect x="725.3" y="294.63" width="1" height="6.98" fill="#1ea38a"/>
<rect x="724.6" y="296.18" width="2.4" height="3.1" fill="#1ea38a"/>
<rect x="728.42" y="285.32" width="1" height="14.74" fill="#1ea38a"/>
<rect x="727.72" y="286.1" width="2.4" height="13.19" fill="#1ea38a"/>
<rect x="731.53" y="285.32" width="1" height="13.96" fill="#e8445c"/>
<rect x="730.83" y="286.1" width="2.4" height="12.41" fill="#e8445c"/>
<rect x="734.64" y="285.32" width="1" height="16.29" fill="#1ea38a"/>
<rect x="733.94" y="286.1" width="2.4" height="12.41" fill="#1ea38a"/>
<rect x="737.75" y="284.55" width="1" height="13.96" fill="#1ea38a"/>
<rect x="737.05" y="286.1" width="2.4" height="2.33" fill="#1ea38a"/>
<rect x="740.87" y="286.1" width="1" height="16.29" fill="#e8445c"/>
<rect x="740.17" y="286.87" width="2.4" height="14.74" fill="#e8445c"/>
<rect x="743.98" y="289.2" width="1" height="12.41" fill="#e8445c"/>
<rect x="743.28" y="289.2" width="2.4" height="12.41" fill="#e8445c"/>
<rect x="747.09" y="287.65" width="1" height="13.96" fill="#1ea38a"/>
<rect x="746.39" y="294.63" width="2.4" height="6.21" fill="#1ea38a"/>
<rect x="750.21" y="291.53" width="1" height="10.86" fill="#e8445c"/>
<rect x="749.51" y="293.08" width="2.4" height="8.53" fill="#e8445c"/>
<rect x="753.32" y="284.55" width="1" height="17.84" fill="#1ea38a"/>
<rect x="752.62" y="284.55" width="2.4" height="14.74" fill="#1ea38a"/>
<rect x="756.43" y="281.44" width="1" height="19.39" fill="#1ea38a"/>
<rect x="755.73" y="282.99" width="2.4" height="1.55" fill="#1ea38a"/>
<rect x="759.54" y="276.79" width="1" height="23.27" fill="#1ea38a"/>
<rect x="758.84" y="277.56" width="2.4" height="7.76" fill="#1ea38a"/>
<rect x="762.66" y="264.38" width="1" height="21.72" fill="#1ea38a"/>
<rect x="761.96" y="265.15" width="2.4" height="20.17" fill="#1ea38a"/>
<rect x="765.77" y="243.43" width="1" height="24.05" fill="#1ea38a"/>
<rect x="765.07" y="261.27" width="2.4" height="5.43" fill="#1ea38a"/>
<rect x="768.88" y="260.5" width="1" height="6.21" fill="#e8445c"/>
<rect x="768.18" y="262.05" width="2.4" height="3.1" fill="#e8445c"/>
<rect x="772" y="260.5" width="1" height="18.62" fill="#e8445c"/>
<rect x="771.3" y="265.15" width="2.4" height="13.19" fill="#e8445c"/>
<rect x="775.11" y="267.48" width="1" height="10.86" fill="#1ea38a"/>
<rect x="774.41" y="271.36" width="2.4" height="5.43" fill="#1ea38a"/>
<rect x="778.22" y="269.03" width="1" height="7.76" fill="#e8445c"/>
<rect x="777.52" y="271.36" width="2.4" height="3.88" fill="#e8445c"/>
<rect x="781.34" y="266.7" width="1" height="10.86" fill="#1ea38a"/>
<rect x="780.64" y="267.48" width="2.4" height="9.31" fill="#1ea38a"/>
<rect x="784.45" y="265.93" width="1" height="13.19" fill="#1ea38a"/>
<rect x="783.75" y="266.7" width="2.4" height="6.98" fill="#1ea38a"/>
<rect x="787.56" y="265.93" width="1" height="13.96" fill="#e8445c"/>
<rect x="786.86" y="267.48" width="2.4" height="6.21" fill="#e8445c"/>
<rect x="790.67" y="270.58" width="1" height="15.52" fill="#e8445c"/>
<rect x="789.97" y="271.36" width="2.4" height="13.19" fill="#e8445c"/>
<rect x="793.79" y="272.13" width="1" height="12.41" fill="#1ea38a"/>
<rect x="793.09" y="272.91" width="2.4" height="8.53" fill="#1ea38a"/>
<rect x="796.9" y="274.46" width="1" height="10.08" fill="#e8445c"/>
<rect x="796.2" y="276.01" width="2.4" height="7.76" fill="#e8445c"/>
<rect x="800.01" y="274.46" width="1" height="8.53" fill="#e8445c"/>
<rect x="799.31" y="276.79" width="2.4" height="5.43" fill="#e8445c"/>
<rect x="803.13" y="272.13" width="1" height="12.41" fill="#1ea38a"/>
<rect x="802.43" y="273.68" width="2.4" height="9.31" fill="#1ea38a"/>
<rect x="806.24" y="270.58" width="1" height="11.64" fill="#1ea38a"/>
<rect x="805.54" y="271.36" width="2.4" height="2.33" fill="#1ea38a"/>
<rect x="809.35" y="266.7" width="1" height="6.21" fill="#1ea38a"/>
<rect x="808.65" y="270.58" width="2.4" height="1.55" fill="#1ea38a"/>
<rect x="812.46" y="265.93" width="1" height="6.21" fill="#1ea38a"/>
<rect x="811.76" y="268.25" width="2.4" height="3.1" fill="#1ea38a"/>
<rect x="815.58" y="265.93" width="1" height="5.43" fill="#e8445c"/>
<rect x="814.88" y="267.48" width="2.4" height="3.1" fill="#e8445c"/>
<rect x="818.69" y="267.48" width="1" height="11.64" fill="#e8445c"/>
<rect x="817.99" y="268.25" width="2.4" height="9.31" fill="#e8445c"/>
<rect x="821.8" y="270.58" width="1" height="10.86" fill="#1ea38a"/>
<rect x="821.1" y="271.36" width="2.4" height="9.31" fill="#1ea38a"/>
<rect x="824.92" y="264.38" width="1" height="10.86" fill="#1ea38a"/>
<rect x="824.22" y="265.93" width="2.4" height="8.53" fill="#1ea38a"/>
<rect x="828.03" y="262.05" width="1" height="12.41" fill="#1ea38a"/>
<rect x="827.33" y="262.82" width="2.4" height="10.08" fill="#1ea38a"/>
<rect x="831.14" y="248.75" width="1" height="16.25" fill="#e8445c"/>
<rect x="830.44" y="260" width="2.4" height="1.5" fill="#e8445c"/>
<rect x="8" y="16" width="960" height="55" fill="rgb(242,56,72)" fill-opacity="0.195"/>
<rect x="8" y="15.5" width="960" height="2" fill="rgb(242,56,72)" fill-opacity="0.2"/>
<rect x="211" y="175" width="757" height="31" fill="rgb(242,58,78)" fill-opacity="0.31"/>
<rect x="8" y="480" width="640" height="51" fill="rgb(82,182,84)" fill-opacity="0.3"/>
<rect x="8" y="156.8" width="416.5" height="2" fill="#d1d1d1"/>
<rect x="324" y="300.3" width="187.5" height="1.5" fill="#d1d1d1"/>
<rect x="536" y="300.3" width="187" height="1.5" fill="#d1d1d1"/>
<rect x="461" y="381.6" width="187" height="1.5" fill="#d1d1d1"/>
<rect x="673.5" y="381.6" width="187.5" height="1.5" fill="#d1d1d1"/>
<rect x="8" y="479.5" width="209.5" height="1.6" fill="#dfe8df"/>
<rect x="230.5" y="479.5" width="318.5" height="1.6" fill="#dfe8df"/>
<line x1="424.6" y1="300.8" x2="911" y2="189" stroke="#d1d1d1" stroke-width="1.3"/>
<line x1="461.5" y1="382.3" x2="948" y2="270" stroke="#d1d1d1" stroke-width="1.3"/>
<rect x="8" y="530" width="1008" height="1" fill="#2a2a2e"/>
<rect x="968" y="254" width="45" height="24.5" fill="#f23645"/>
</svg>
<div class="pl" style="top:12.6px">166,000</div><div class="pl" style="top:40.2px">165,000</div><div class="pl" style="top:67.9px">164,000</div><div class="pl" style="top:95.1px">163,000</div><div class="pl" style="top:122.9px">162,000</div><div class="pl" style="top:151.1px">161,000</div><div class="pl" style="top:178.9px">160,000</div><div class="pl" style="top:207.3px">159,000</div><div class="pl" style="top:236.1px">158,000</div><div class="pl" style="top:299px">155,800</div><div class="pl" style="top:334px">154,600</div><div class="pl" style="top:369.5px">153,400</div><div class="pl" style="top:398.7px">152,400</div><div class="pl" style="top:428.7px">151,400</div><div class="pl" style="top:452.4px">150,600</div><div class="pl" style="top:477px">149,800</div><div class="pl" style="top:500.7px">149,000</div><div class="dl" style="left:31px">21</div><div class="dl" style="left:105.71px">22</div><div class="dl" style="left:180.42px">23</div><div class="dl" style="left:255.13px">24</div><div class="dl" style="left:329.84px">25</div><div class="dl" style="left:404.55px">26</div><div class="dl" style="left:479.26px">27</div><div class="dl" style="left:553.97px;font-style:normal">28</div><div class="dl" style="left:628.68px">29</div><div class="dl" style="left:703.39px">30</div><div class="dl" style="left:778.1px">31</div><div class="dl" style="left:852.81px;font-style:normal">Apr</div><div class="dl" style="left:927.52px;font-style:normal">2</div>
<div class="lg" style="left:14.5px;color:#d8cfd2;transform:scaleX(0.845)">USDT-IRT, 1h, USDTIRT</div>
<div class="lg" style="left:115px;color:#d8cfd2">O</div><div class="lg" style="left:123.5px;color:#d63a4c">157,394</div>
<div class="lg" style="left:161px;color:#d8cfd2">H</div><div class="lg" style="left:169.5px;color:#d63a4c">157,775</div>
<div class="lg" style="left:206px;color:#d8cfd2">L</div><div class="lg" style="left:212.5px;color:#d63a4c">157,209</div>
<div class="lg" style="left:250.5px;color:#d8cfd2">C</div><div class="lg" style="left:257.5px;color:#d63a4c">157,370</div>
<div class="lg" style="left:296px;color:#d63a4c">+70 (+0.04%)</div>
<div style="position:absolute;left:614.5px;top:181.5px;font-size:14.5px;line-height:16px;color:#f3e6e8;font-style:italic;font-family:'Liberation Serif',serif;">fvg</div>
<div style="position:absolute;left:513.5px;top:296.5px;font-size:8.5px;line-height:10px;color:#a9b3dc;font-style:italic;transform:scaleX(0.9);transform-origin:left center;">choch</div>
<div style="position:absolute;left:651px;top:377.5px;font-size:8.5px;line-height:10px;color:#a9b3dc;font-style:italic;transform:scaleX(0.9);transform-origin:left center;">choch</div>
<div style="position:absolute;left:220.5px;top:475.5px;font-size:8.5px;line-height:10px;color:#b7d8d0;font-style:italic;transform:scaleX(0.85);transform-origin:left center;">$$</div>
<div style="position:absolute;left:975.5px;top:254.5px;font-size:10px;line-height:11px;color:#ffffff;font-style:italic;transform:scaleX(0.88);transform-origin:left center;">157,370</div>
<div style="position:absolute;left:975.5px;top:265.5px;font-size:10px;line-height:11px;color:#ffffff;font-style:italic;transform:scaleX(0.88);transform-origin:left center;">11:35</div>
<svg width="16" height="9" viewBox="0 0 16 9" style="left:8px;top:561.5px;position:absolute">
<path d="M0 0H6V8.5H3V3H0Z" fill="#d1d4dc"/><circle cx="8.3" cy="1.7" r="1.7" fill="#d1d4dc"/><path d="M12 0H15.5L12 8.5H8.5Z" fill="#d1d4dc"/>
</svg>
<div style="position:absolute;left:27px;top:560px;font-size:11px;line-height:12px;color:#d1d4dc;font-style:italic;font-weight:bold;transform:scaleX(0.85);transform-origin:left center;">TradingView</div>
</body></html>
